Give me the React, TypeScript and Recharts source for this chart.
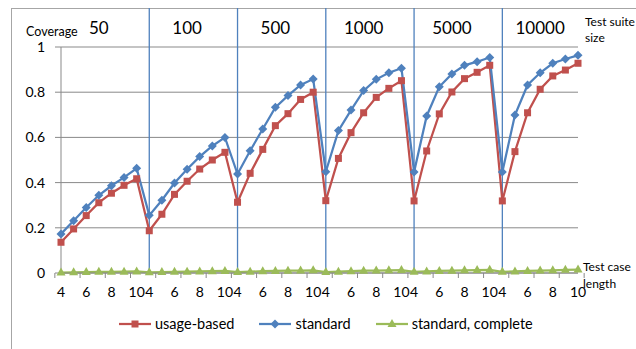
import { LineChart, Line, XAxis, YAxis, CartesianGrid, ReferenceLine } from "recharts";

const SUITE_SIZES = ["50", "100", "500", "1000", "5000", "10000"];
const TEST_LENGTHS = [4, 5, 6, 7, 8, 9, 10];
const Y_TICKS = [0, 0.2, 0.4, 0.6, 0.8, 1];

const USAGE_BASED = [
  0.136, 0.195, 0.254, 0.311, 0.353, 0.388, 0.417,
  0.187, 0.26, 0.348, 0.406, 0.46, 0.5, 0.534,
  0.313, 0.441, 0.547, 0.652, 0.705, 0.768, 0.8,
  0.32, 0.507, 0.621, 0.709, 0.777, 0.817, 0.851,
  0.319, 0.54, 0.704, 0.801, 0.86, 0.888, 0.919,
  0.319, 0.537, 0.709, 0.813, 0.872, 0.898, 0.928,
];
const STANDARD = [
  0.173, 0.231, 0.29, 0.344, 0.386, 0.423, 0.463,
  0.255, 0.322, 0.398, 0.459, 0.515, 0.562, 0.6,
  0.438, 0.541, 0.637, 0.733, 0.785, 0.832, 0.858,
  0.448, 0.63, 0.721, 0.807, 0.857, 0.886, 0.906,
  0.447, 0.695, 0.824, 0.881, 0.919, 0.935, 0.954,
  0.447, 0.699, 0.832, 0.886, 0.928, 0.947, 0.963,
];
const STANDARD_COMPLETE = [
  0.002, 0.003, 0.004, 0.005, 0.005, 0.006, 0.007,
  0.003, 0.004, 0.005, 0.006, 0.007, 0.008, 0.009,
  0.004, 0.006, 0.008, 0.009, 0.01, 0.011, 0.012,
  0.004, 0.006, 0.008, 0.01, 0.011, 0.012, 0.013,
  0.005, 0.007, 0.009, 0.01, 0.012, 0.013, 0.014,
  0.005, 0.007, 0.009, 0.011, 0.012, 0.014, 0.015,
];

const RED = "#C0504D";
const BLUE = "#4F81BD";
const GREEN = "#9BBB59";
const GRID = "#898989";
const FONT = "Lato, 'Open Sans', sans-serif";

const W = 636;
const H = 349;
const MARGIN = { top: 17, right: 58, bottom: 46, left: 10 };
const Y_AXIS_W = 51;
const PLOT_W = W - MARGIN.left - MARGIN.right - Y_AXIS_W;

const data = SUITE_SIZES.flatMap((size, g) =>
  TEST_LENGTHS.map((len, i) => {
    const k = g * TEST_LENGTHS.length + i;
    return {
      key: `${size}-${len}`,
      size,
      len,
      usage: USAGE_BASED[k],
      standard: STANDARD[k],
      complete: STANDARD_COMPLETE[k],
    };
  })
);
const STEP = PLOT_W / data.length;

const Square = (props: any) => {
  const { cx, cy } = props;
  if (cx == null || cy == null) return null;
  return <rect x={cx - 3.5} y={cy - 3.5} width={7} height={7} fill={RED} />;
};
const Diamond = (props: any) => {
  const { cx, cy } = props;
  if (cx == null || cy == null) return null;
  const r = 4.5;
  return <polygon points={`${cx},${cy - r} ${cx + r},${cy} ${cx},${cy + r} ${cx - r},${cy}`} fill={BLUE} />;
};
const Triangle = (props: any) => {
  const { cx, cy } = props;
  if (cx == null || cy == null) return null;
  return <polygon points={`${cx},${cy - 5} ${cx + 4.5},${cy + 3} ${cx - 4.5},${cy + 3}`} fill={GREEN} />;
};

const BottomTick = (props: any) => {
  const { x, y, index } = props;
  const d = data[index];
  const label = d && d.len % 2 === 0 ? String(d.len) : "";
  const ay = y - 14;
  return (
    <g>
      {index % 2 === 0 && <line x1={x - STEP / 2} x2={x - STEP / 2} y1={ay} y2={ay + 5} stroke={GRID} />}
      {index === data.length - 1 && <line x1={x + STEP / 2} x2={x + STEP / 2} y1={ay} y2={ay + 5} stroke={GRID} />}
      <text x={x} y={y} dy="0.71em" textAnchor="middle" fontSize={14} fill="#000" fontFamily={FONT}>
        {label}
      </text>
    </g>
  );
};

const Sep = (props: any) => {
  const { x1, y1, y2 } = props;
  return <line x1={x1} x2={x1} y1={8} y2={Math.max(y1, y2)} stroke={BLUE} strokeWidth={1.3} />;
};

const LegendItem = ({ color, marker, label, gap }: { color: string; marker: string; label: string; gap: number }) => (
  <div style={{ display: "flex", alignItems: "center", marginRight: gap }}>
    <svg width={34} height={12} style={{ marginRight: 3 }}>
      <line x1={1} x2={33} y1={6} y2={6} stroke={color} strokeWidth={2.25} />
      {marker === "square" && <rect x={13.5} y={2.5} width={7} height={7} fill={color} />}
      {marker === "diamond" && <polygon points="17,1.5 21.5,6 17,10.5 12.5,6" fill={color} />}
      {marker === "triangle" && <polygon points="17,1 21.5,9 12.5,9" fill={color} />}
    </svg>
    <span>{label}</span>
  </div>
);

export default function App() {
  return (
    <div style={{ position: "absolute", left: 0, top: 0, width: W, height: H, background: "#fff", fontFamily: FONT }}>
      <div style={{ position: "absolute", left: 11, top: 8, right: 0, bottom: 0, borderLeft: "1px solid #a6a6a6", borderTop: "1px solid #a6a6a6" }} />
      <LineChart width={W} height={H} data={data} margin={MARGIN} style={{ position: "absolute", left: 0, top: 0 }}>
        <CartesianGrid vertical={false} stroke={GRID} />
        <XAxis
          dataKey="key"
          interval={0}
          axisLine={{ stroke: GRID }}
          tickLine={false}
          tickSize={0}
          tickMargin={14}
          height={30}
          tick={<BottomTick />}
        />
        <XAxis
          xAxisId="top"
          orientation="top"
          dataKey="key"
          interval={0}
          axisLine={false}
          tickLine={false}
          tickSize={0}
          tickMargin={13}
          height={30}
          tick={{ fontSize: 17, fill: "#000", fontFamily: FONT }}
          tickFormatter={(v: string) => {
            const [size, len] = v.split("-");
            return len === "7" ? size : "";
          }}
        />
        <YAxis
          domain={[0, 1]}
          ticks={Y_TICKS}
          width={Y_AXIS_W}
          axisLine={{ stroke: GRID }}
          tickLine={{ stroke: GRID }}
          tickSize={6}
          tickMargin={10}
          tick={{ fontSize: 14, fill: "#000", fontFamily: FONT }}
          tickFormatter={(v: number) => (v === 0 || v === 1 ? String(v) : v.toFixed(1))}
        />
        {SUITE_SIZES.slice(1).map((s, g) => (
          <ReferenceLine
            key={s}
            x={data[(g + 1) * TEST_LENGTHS.length].key}
            position="start"
            ifOverflow="visible"
            shape={<Sep />}
          />
        ))}
        <Line dataKey="complete" stroke={GREEN} strokeWidth={2.25} dot={<Triangle />} isAnimationActive={false} />
        <Line dataKey="usage" stroke={RED} strokeWidth={2.25} dot={<Square />} isAnimationActive={false} />
        <Line dataKey="standard" stroke={BLUE} strokeWidth={2.25} dot={<Diamond />} isAnimationActive={false} />
      </LineChart>
      <div style={{ position: "absolute", left: 26, top: 24, fontSize: 12.5, whiteSpace: "nowrap" }}>Coverage</div>
      <div style={{ position: "absolute", left: 585, top: 14, fontSize: 12, lineHeight: "16px", whiteSpace: "nowrap" }}>
        Test suite
        <br />
        size
      </div>
      <div style={{ position: "absolute", left: 583, top: 258, fontSize: 12, lineHeight: "17px", whiteSpace: "nowrap" }}>
        Test case
        <br />
        length
      </div>
      <div style={{ position: "absolute", left: 118, top: 315, display: "flex", fontSize: 14.5, color: "#000", whiteSpace: "nowrap" }}>
        <LegendItem color={RED} marker="square" label="usage-based" gap={24} />
        <LegendItem color={BLUE} marker="diamond" label="standard" gap={24} />
        <LegendItem color={GREEN} marker="triangle" label="standard, complete" gap={0} />
      </div>
    </div>
  );
}
